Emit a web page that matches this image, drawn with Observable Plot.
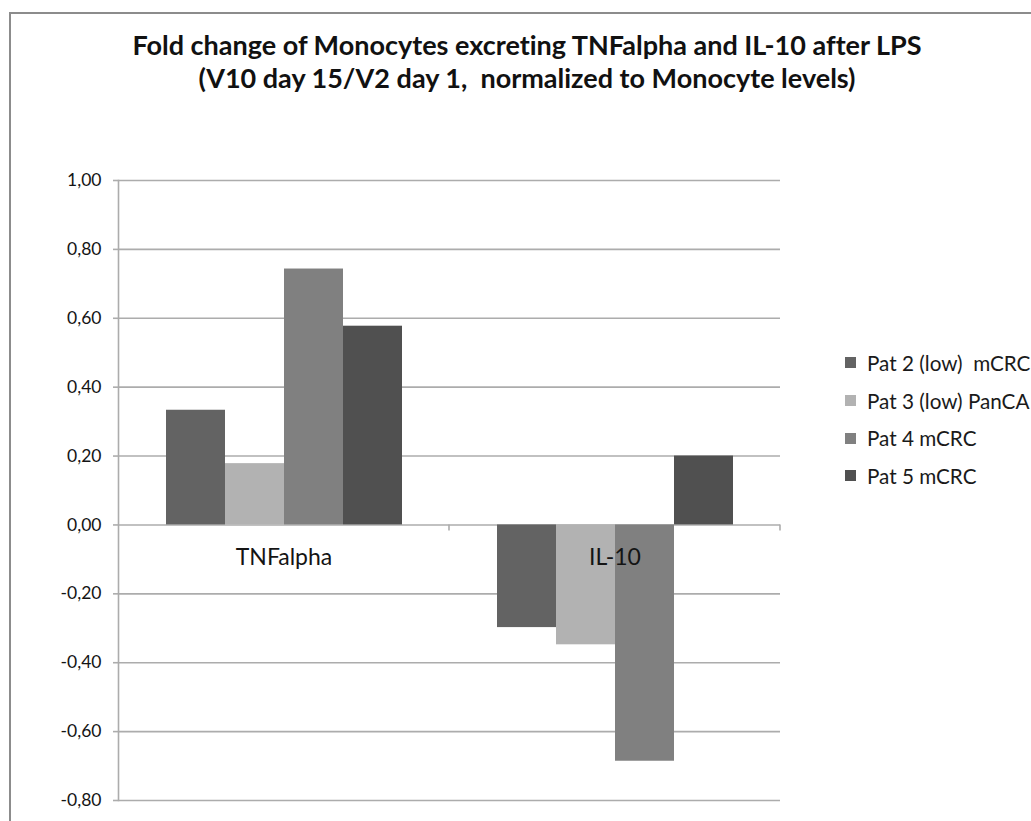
<!DOCTYPE html>
<html><head><meta charset="utf-8">
<script src="https://cdn.jsdelivr.net/npm/d3@7"></script>
<script src="https://cdn.jsdelivr.net/npm/@observablehq/plot@0.6"></script>
<style>
html,body{margin:0;padding:0;background:#fff;}
#chart{position:relative;width:1031px;height:821px;overflow:hidden;font-family:Lato,"Open Sans",sans-serif;background:#fff;font-variant-ligatures:none;}
#chart svg text{font-variant-ligatures:none;}
#frame{position:absolute;left:9px;top:12px;width:1100px;height:900px;border-left:2px solid #8c8c8c;border-top:2px solid #8c8c8c;}
#title{position:absolute;left:0;top:28px;width:1054px;text-align:center;font-weight:bold;font-size:27px;line-height:33px;color:#111;white-space:pre;}
#plot{position:absolute;left:0;top:0;}
#legend{position:absolute;left:845px;top:344px;}
.item{display:flex;align-items:center;height:37.7px;font-size:20.7px;color:#1a1a1a;white-space:pre;}
.sw{width:11px;height:11px;margin-right:11px;flex:none;}
</style></head><body>
<div id="chart"><div id="frame"></div><div id="plot"></div><div id="title"></div><div id="legend"></div></div>
<script>
const categories = ["TNFalpha", "IL-10"];
const series = ["Pat 2 (low)  mCRC", "Pat 3 (low) PanCA", "Pat 4 mCRC", "Pat 5 mCRC"];
const tnfValues = [0.333, 0.178, 0.743, 0.577];
const il10Values = [-0.298, -0.348, -0.686, 0.200];
const colors = ["#636363", "#b2b2b2", "#808080", "#505050"];
const yTicks = [-0.8, -0.6, -0.4, -0.2, 0, 0.2, 0.4, 0.6, 0.8, 1.0];
const titleLines = [
  "Fold change of Monocytes excreting TNFalpha and IL-10 after LPS",
  "(V10 day 15/V2 day 1,  normalized to Monocyte levels)"
];

const valuesByCategory = [tnfValues, il10Values];
const data = categories.flatMap((c, i) => series.map((s, j) => ({category: c, series: s, value: valuesByCategory[i][j]})));

const fmt = d => d.toFixed(2).replace(".", ",");
const font = "Lato, 'Open Sans', sans-serif";

const plot = Plot.plot({
  width: 1031, height: 821,
  marginLeft: 117, marginRight: 251, marginTop: 180, marginBottom: 21,
  style: {fontFamily: font, background: "transparent", overflow: "visible"},
  fx: {domain: categories, padding: 0, axis: null},
  x: {domain: series, paddingInner: 0, paddingOuter: 0.7625, axis: null},
  y: {domain: [-0.8, 1.0], axis: null},
  color: {domain: series, range: colors},
  marks: [
    Plot.ruleY(yTicks, {stroke: "#acacac", strokeWidth: 1.6}),
    Plot.frame({anchor: "left", facetAnchor: "left", stroke: "#acacac", strokeWidth: 1.6}),
    Plot.barY(data, {fx: "category", x: "series", y: "value", fill: "series"}),
    Plot.axisY({ticks: yTicks, tickFormat: fmt, label: null, tickSize: 5, tickPadding: 12, fontSize: 17.5, stroke: "#acacac", strokeWidth: 1.6, fill: "#141414"}),
    Plot.text(categories, {fx: d => d, y: () => 0, text: d => d, dy: 33, fontSize: 23, fill: "#141414"})
  ]
});

// category boundary tick marks below the zero line, positioned with Plot's scales
const fxS = plot.scale("fx"), yS = plot.scale("y");
const svg = d3.select(plot.tagName.toLowerCase() === "svg" ? plot : plot.querySelector("svg"));
const y0 = yS.apply(0);
categories.forEach(c => {
  const xb = fxS.apply(c) + fxS.bandwidth;
  svg.append("line").attr("x1", xb).attr("x2", xb).attr("y1", y0).attr("y2", y0 + 6)
    .attr("stroke", "#acacac").attr("stroke-width", 1.6);
});

document.getElementById("plot").appendChild(plot);

const title = d3.select("#title");
titleLines.forEach(t => title.append("div").text(t));

const legend = d3.select("#legend");
series.forEach((s, i) => {
  const it = legend.append("div").attr("class", "item");
  it.append("div").attr("class", "sw").style("background", colors[i]);
  it.append("span").text(s);
});
</script>
</body></html>
